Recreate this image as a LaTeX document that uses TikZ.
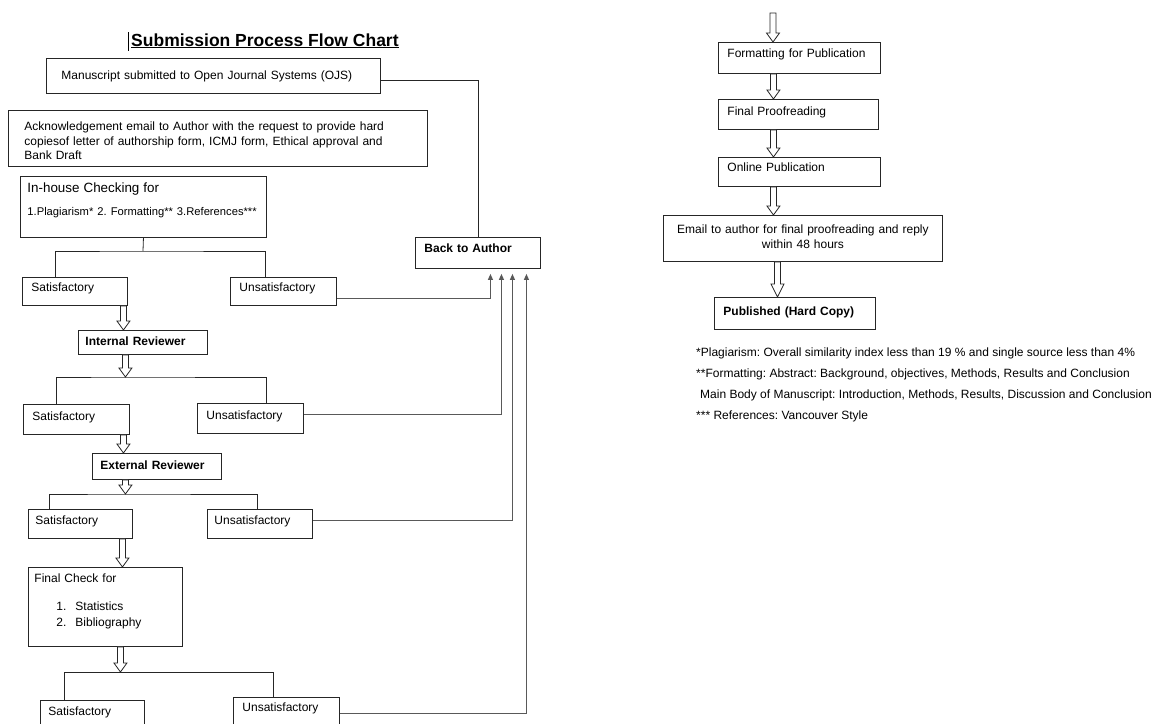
\documentclass[tikz,border=0pt]{standalone}
\usepackage{fontspec}
\setmainfont{Liberation Sans}
\usetikzlibrary{arrows.meta,calc}

\newcommand{\bodysize}{\fontsize{12}{14.5}\selectfont}

\tikzset{
  stage/.style={draw=black!85, line width=0.9pt, anchor=north west,
    inner xsep=8pt, inner ysep=0pt, align=left, font=\bodysize},
  link/.style={draw=black!85, line width=0.8pt},
  back/.style={draw=black!65, line width=1.1pt, shorten >=5pt,
    -{Triangle[length=6pt,width=5pt]}},
  hollow/.style={draw=black!85, line width=0.8pt, fill=white, to path={
      let \p1=(\tikztostart), \p2=(\tikztotarget) in
      (\x1-3pt,\y1) -- (\x1-3pt,\y2+#1) -- (\x1-6.5pt,\y2+#1) -- (\x1,\y2)
      -- (\x1+6.5pt,\y2+#1) -- (\x1+3pt,\y2+#1) -- (\x1+3pt,\y1) -- cycle}},
  hollow/.default=9pt,
  note/.style={anchor=base west, inner sep=0pt, font=\bodysize}
}

\begin{document}
\frenchspacing
\begin{tikzpicture}[x=1pt, y=-1pt]
  \useasboundingbox (0,0) rectangle (1153,723);

  % Title
  \node[anchor=base west, inner sep=0pt, font=\fontsize{17.5}{20}\selectfont\bfseries]
    (title) at (131,46) {\underline{Submission Process Flow Chart}};
  \draw[line width=0.6pt] (128,32) -- (128,51);

  % Left column
  \node[stage, inner xsep=15pt, text width=304pt, text height=21.3pt, text depth=13.7pt]
    (ojs) at (46,58) {Manuscript submitted to Open Journal Systems (OJS)};
  \node[stage, inner xsep=16pt, text width=387pt, text height=20.3pt, text depth=35.7pt]
    (ack) at (8,110) {Acknowledgement email to Author with the request to provide hard\\
      copiesof letter of authorship form, ICMJ form, Ethical approval and\\
      Bank Draft};
  \node[stage, inner xsep=7pt, text width=232pt, text height=15.8pt, text depth=45.2pt]
    (inhouse) at (20,176) {{\fontsize{13.4}{16}\selectfont In-house Checking for}\\[8.7pt]
      {\fontsize{11.2}{13}\selectfont 1.Plagiarism* 2. Formatting** 3.References***}};

  \node[stage, inner xsep=9pt, text width=107pt, text height=15.3pt, text depth=15.7pt,
    font=\bodysize\bfseries] (bta) at (415,237) {Back to Author};

  \node[stage, inner xsep=9pt, text width=87pt, text height=14.3pt, text depth=13.7pt]
    (sat1) at (22,277) {Satisfactory};
  \node[stage, inner xsep=9pt, text width=88pt, text height=14.3pt, text depth=13.7pt]
    (unsat1) at (230,277) {Unsatisfactory};

  \node[stage, inner xsep=7pt, text width=115pt, text height=15.3pt, text depth=8.7pt,
    font=\bodysize\bfseries] (ir) at (78,330) {Internal Reviewer};

  \node[stage, inner xsep=9pt, text width=88pt, text height=16.3pt, text depth=13.7pt]
    (sat2) at (23,404) {Satisfactory};
  \node[stage, inner xsep=9pt, text width=88pt, text height=16.3pt, text depth=13.7pt]
    (unsat2) at (197,403) {Unsatisfactory};

  \node[stage, inner xsep=8pt, text width=113pt, text height=16.3pt, text depth=9.7pt,
    font=\bodysize\bfseries] (er) at (92,453) {External Reviewer};

  \node[stage, inner xsep=7pt, text width=90pt, text height=15.3pt, text depth=13.7pt]
    (sat3) at (28,509) {Satisfactory};
  \node[stage, inner xsep=7pt, text width=91pt, text height=15.3pt, text depth=13.7pt]
    (unsat3) at (207,509) {Unsatisfactory};

  \node[stage, inner xsep=6pt, text width=142pt, text height=15.3pt, text depth=63.7pt]
    (fc) at (28,567) {Final Check for\\[13.5pt]
      \hspace*{22pt}\makebox[19pt][l]{1.}Statistics\\[1.5pt]
      \hspace*{22pt}\makebox[19pt][l]{2.}Bibliography};

  \node[stage, inner xsep=8pt, text width=88pt, text height=15.3pt, text depth=14.7pt]
    (sat4) at (40,700) {Satisfactory};
  \node[stage, inner xsep=9pt, text width=88pt, text height=14.3pt, text depth=15.7pt]
    (unsat4) at (233,697) {Unsatisfactory};

  % Right column
  \coordinate (top) at (773,13);
  \node[stage, inner xsep=9pt, text width=144pt, text height=15.3pt, text depth=15.7pt]
    (form) at (718,42) {Formatting for Publication};
  \node[stage, inner xsep=9pt, text width=142pt, text height=16.3pt, text depth=13.7pt]
    (final) at (718,99) {Final Proofreading};
  \node[stage, inner xsep=9pt, text width=144pt, text height=14.3pt, text depth=14.7pt]
    (online) at (718,157) {Online Publication};
  \node[stage, inner xsep=8pt, text width=263pt, text height=18.3pt, text depth=27.7pt,
    align=center] (email) at (663,215) {Email to author for final proofreading and reply\\
      within 48 hours};
  \node[stage, inner xsep=9pt, text width=143pt, text height=18.3pt, text depth=13.7pt,
    font=\bodysize\bfseries] (pub) at (714,297) {Published (Hard Copy)};

  % Notes
  \node[note] (note1) at (696,356.3)
    {*Plagiarism: Overall similarity index less than 19 \% and single source less than 4\%};
  \node[note] (note2) at (696,377.3)
    {**Formatting: Abstract: Background, objectives, Methods, Results and Conclusion};
  \node[note] (note3) at (696,398.3)
    {\hspace*{4pt}Main Body of Manuscript: Introduction, Methods, Results, Discussion and Conclusion};
  \node[note] (note4) at (696,419.3) {*** References: Vancouver Style};

  % Branch points
  \coordinate (b1) at (143,251);
  \coordinate (b2) at (125,377);
  \coordinate (b3) at (125,494);
  \coordinate (b4) at (120,672);

  \draw[link] (inhouse.south) -- (b1);
  \draw[link] ([xshift=33]sat1.north west) |- (b1) -| ([xshift=35]unsat1.north west);
  \draw[link] ([xshift=33]sat2.north west) |- (b2) -| ([xshift=69]unsat2.north west);
  \draw[link] ([xshift=21]sat3.north west) |- (b3) -| ([xshift=50]unsat3.north west);
  \draw[link] ([xshift=24]sat4.north west) |- (b4) -| ([xshift=40]unsat4.north west);

  % Hollow arrows, left
  \draw[hollow] ([xshift=48.5]sat1.south) to (ir.north);
  \draw[hollow] ([xshift=-17.5]ir.south) to (b2);
  \draw[hollow] ([xshift=47]sat2.south) to (er.north);
  \draw[hollow] ([xshift=-31.5]er.south) to (b3);
  \draw[hollow] ([xshift=42]sat3.south) to (fc.north);
  \draw[hollow] ([xshift=15]fc.south) to (b4);

  % Hollow arrows, right
  \draw[hollow] (top) to (form.north);
  \draw[hollow] ([xshift=-26]form.south) to (final.north);
  \draw[hollow] ([xshift=-25]final.south) to (online.north);
  \draw[hollow] ([xshift=-26]online.south) to (email.north);
  \draw[hollow=13pt] ([xshift=-25.5]email.south) to (pub.north);

  % Back to author
  \draw[link] ([yshift=-4.5]ojs.east) -| (bta.north);
  \draw[back] ([yshift=-7]unsat1.east) -| ([xshift=12.5]bta.south);
  \draw[back] ([yshift=4]unsat2.east) -| ([xshift=23.5]bta.south);
  \draw[back] ([yshift=3.5]unsat3.east) -| ([xshift=34.5]bta.south);
  \draw[back] ([yshift=-1]unsat4.east) -| ([xshift=48.5]bta.south);
\end{tikzpicture}
\end{document}
